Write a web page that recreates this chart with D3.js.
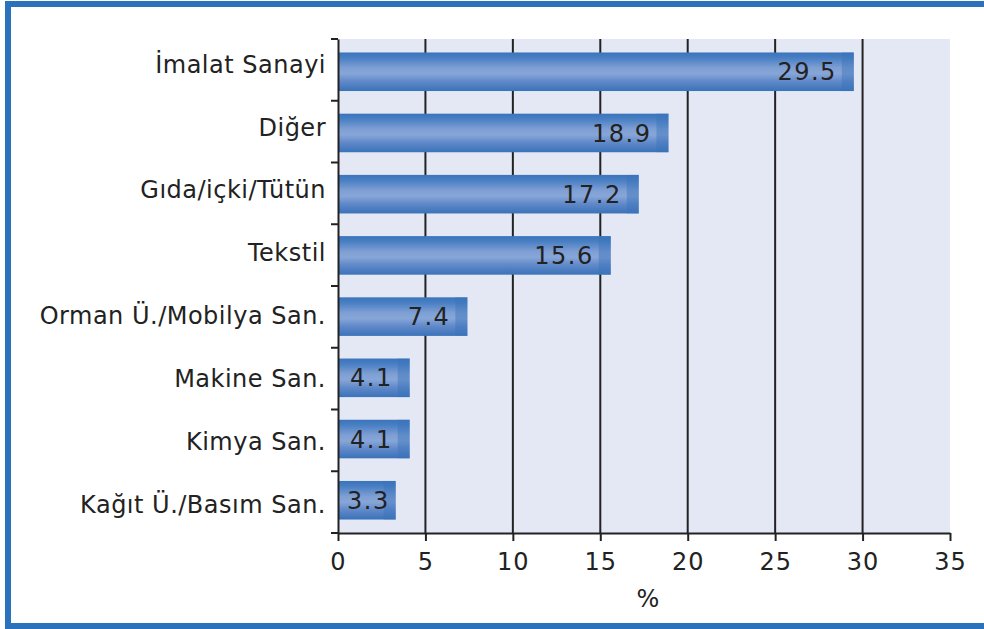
<!DOCTYPE html>
<html><head><meta charset="utf-8">
<script src="https://cdn.jsdelivr.net/npm/d3@7"></script>
<style>
html,body{margin:0;padding:0;background:#fff;}
svg text{font-family:"DejaVu Sans","Liberation Sans",sans-serif;fill:#222;}
</style></head>
<body><svg id="c" width="984" height="629"></svg>
<script>
const categories = ["İmalat Sanayi","Diğer","Gıda/içki/Tütün","Tekstil","Orman Ü./Mobilya San.","Makine San.","Kimya San.","Kağıt Ü./Basım San."];
const values = [29.5,18.9,17.2,15.6,7.4,4.1,4.1,3.3];
const valueLabels = ["29.5","18.9","17.2","15.6","7.4","4.1","4.1","3.3"];
const xTicks = [0,5,10,15,20,25,30,35];
const xTitle = "%";

const svg = d3.select("#c");
const pL = 338, pR = 950, pT = 39, pB = 533;
const FF = '"DejaVu Sans","Liberation Sans",sans-serif';

// frame
svg.append("rect").attr("x",8).attr("y",4).attr("width",990).attr("height",622)
  .attr("fill","none").attr("stroke","#2a72bb").attr("stroke-width",6);

const x = d3.scaleLinear().domain([0,35]).range([pL,pR]);
const y = d3.scaleBand().domain(categories).range([pT,pB]).paddingInner(0.37).paddingOuter(0.22);
const yLab = d3.scalePoint().domain(categories).range([64,504.5]);

const defs = svg.append("defs");
const g = defs.append("linearGradient").attr("id","bg").attr("x1",0).attr("y1",0).attr("x2",0).attr("y2",1);
[[0,"#3a74bb"],[0.15,"#4a80c4"],[0.4,"#7f9fd4"],[0.55,"#87a6d8"],[0.75,"#6089c9"],[1,"#3a72b9"]]
  .forEach(([o,c])=>g.append("stop").attr("offset",o).attr("stop-color",c));

// plot bg
svg.append("rect").attr("x",pL).attr("y",pT).attr("width",pR-pL).attr("height",pB-pT).attr("fill","#e4e8f5");

// grid
svg.append("g").selectAll("line").data(xTicks.filter(d=>d>0 && d<35)).join("line")
  .attr("x1",d=>x(d)).attr("x2",d=>x(d)).attr("y1",pT).attr("y2",pB)
  .attr("stroke","#222").attr("stroke-width",2);

// bars
const bars = svg.append("g").selectAll("g").data(categories).join("g");
bars.append("rect").attr("x",x(0)).attr("y",d=>y(d)).attr("width",(d,i)=>x(values[i])-x(0))
  .attr("height",y.bandwidth()).attr("fill","url(#bg)");
bars.append("rect").attr("x",(d,i)=>x(values[i])-12).attr("y",d=>y(d)).attr("width",12)
  .attr("height",y.bandwidth()).attr("fill","#3a74bb").attr("opacity",0.45);
bars.append("text").attr("y",d=>y(d)+y.bandwidth()/2)
  .attr("dy","0.36em").attr("text-anchor","start").attr("font-size",24).attr("letter-spacing",1.5)
  .text((d,i)=>valueLabels[i])
  .each(function(d,i){
    const w = this.getComputedTextLength();
    const start = Math.max(x(values[i]) - 17 - w, x(0) + 9);
    d3.select(this).attr("x", start);
  });

// y axis
const ya = svg.append("g").attr("transform",`translate(${pL},0)`)
  .call(d3.axisLeft(y).tickSize(0).tickFormat(""));
ya.select(".domain").attr("stroke","#222").attr("stroke-width",2);
svg.append("g").selectAll("text").data(categories).join("text")
  .attr("x",pL-12).attr("y",d=>yLab(d)).attr("dy","0.36em").attr("text-anchor","end")
  .attr("font-size",24).attr("letter-spacing",0.5).text(d=>d);
// band separator ticks
const seps = d3.range(categories.length+1).map(i=>pT + i*(pB-pT)/categories.length);
svg.append("g").selectAll("line").data(seps).join("line")
  .attr("x1",pL-7).attr("x2",pL).attr("y1",d=>d).attr("y2",d=>d).attr("stroke","#222").attr("stroke-width",2);

// x axis
const xa = svg.append("g").attr("transform",`translate(0,${pB})`)
  .call(d3.axisBottom(x).tickValues(xTicks).tickSize(8).tickPadding(12).tickSizeOuter(0));
xa.select(".domain").attr("stroke","#222").attr("stroke-width",2);
xa.selectAll(".tick line").attr("stroke","#222").attr("stroke-width",2);
xa.selectAll("text").attr("font-size",24).attr("letter-spacing",1).style("font-family",FF).attr("fill","#222");

svg.append("text").attr("x",x(17.5)+4).attr("y",607).attr("text-anchor","middle").attr("font-size",24).text(xTitle);
</script></body></html>
